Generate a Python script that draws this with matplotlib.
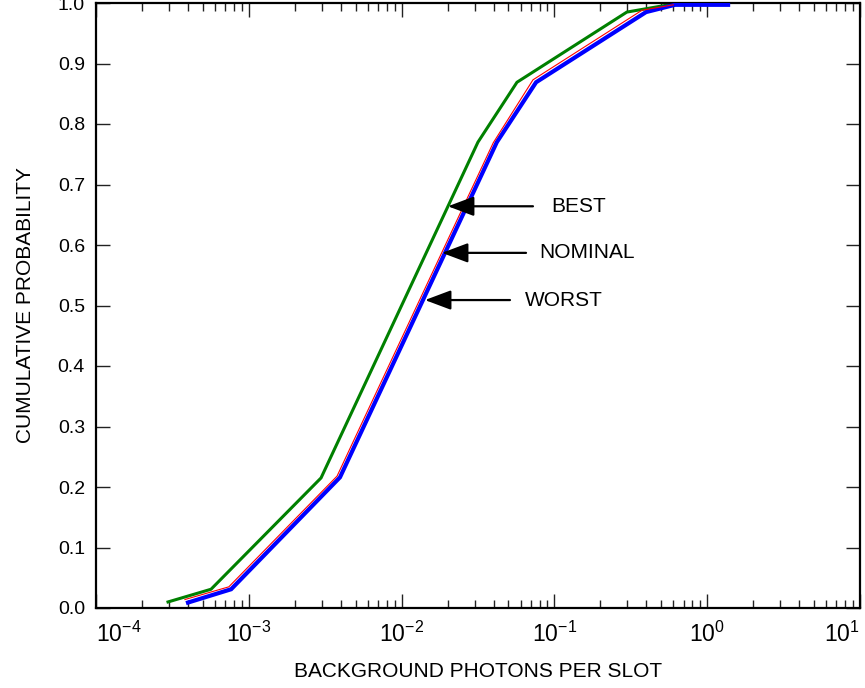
import matplotlib
matplotlib.use("Agg")
import matplotlib.pyplot as plt
import matplotlib.ticker as mticker
from matplotlib.patches import ArrowStyle

plt.rcParams['font.family'] = ['Liberation Sans', 'DejaVu Sans']
plt.rcParams['mathtext.fontset'] = 'custom'
plt.rcParams['mathtext.rm'] = 'Liberation Sans'
plt.rcParams['mathtext.it'] = 'Liberation Sans:italic'
plt.rcParams['mathtext.bf'] = 'Liberation Sans:bold'

# Data
best_x = [2.96e-4, 5.66e-4, 2.97e-3, 0.0316, 0.0569, 0.298, 0.56]
best_y = [0.010, 0.031, 0.215, 0.770, 0.869, 0.985, 0.997]

nominal_x = [3.82e-4, 7.40e-4, 3.78e-3, 0.0398, 0.0724, 0.374, 0.60]
nominal_y = [0.014, 0.035, 0.218, 0.769, 0.873, 0.988, 0.997]

worst_x = [4.00e-4, 7.66e-4, 3.95e-3, 0.0420, 0.0759, 0.398, 0.615, 1.37]
worst_y = [0.009, 0.031, 0.216, 0.770, 0.869, 0.985, 0.997, 0.997]

labels = ["BEST", "NOMINAL", "WORST"]
arrow_y = [0.664, 0.587, 0.509]
arrow_tip_x = [0.0201, 0.01837, 0.01422]
arrow_tail_x = [0.0724, 0.0652, 0.0512]
label_x = [0.095, 0.0793, 0.0643]

yticks = [0.0, 0.1, 0.2, 0.3, 0.4, 0.5, 0.6, 0.7, 0.8, 0.9, 1.0]
xticks = [1e-4, 1e-3, 1e-2, 1e-1, 1e0, 1e1]

fig = plt.figure(figsize=(8.65, 6.88), dpi=100)
ax = fig.add_axes([96/865, 1-608/688, (860-96)/865, (608-3)/688])

ax.plot(worst_x, worst_y, color='#0000ff', lw=3.0, solid_joinstyle='miter', zorder=3)
ax.plot(best_x, best_y, color='#008000', lw=2.2, zorder=2)
ax.plot(nominal_x, nominal_y, color='#ff0000', lw=0.8, zorder=4)

ax.set_xscale('log')
ax.set_xlim(1e-4, 1e1)
ax.set_ylim(0, 1.0)

ax.xaxis.set_major_locator(mticker.FixedLocator(xticks))
ax.xaxis.set_minor_locator(mticker.LogLocator(base=10, subs=range(2, 10), numticks=20))
ax.xaxis.set_minor_formatter(mticker.NullFormatter())
ax.yaxis.set_major_locator(mticker.FixedLocator(yticks))
ax.yaxis.set_major_formatter(mticker.FormatStrFormatter('%.1f'))

ax.tick_params(which='both', direction='in', top=True, right=True, width=1.0, color='#222222')
ax.tick_params(which='major', length=10)
ax.tick_params(which='minor', length=6)
ax.tick_params(axis='x', which='major', pad=10, labelsize=16.5)
ax.tick_params(axis='y', which='major', pad=8, labelsize=14)
for s in ax.spines.values():
    s.set_linewidth(1.6)

ax.set_xlabel("BACKGROUND PHOTONS PER SLOT", fontsize=15, labelpad=11)
ax.set_ylabel("CUMULATIVE PROBABILITY", fontsize=15, labelpad=16)

style = ArrowStyle('-|>', head_length=1.6, head_width=0.6)
for lab, y, tx, tl, lx in zip(labels, arrow_y, arrow_tip_x, arrow_tail_x, label_x):
    ax.annotate('', xy=(tx, y), xytext=(tl, y),
                arrowprops=dict(arrowstyle=style, mutation_scale=10, color='black',
                                lw=1.6, shrinkA=0, shrinkB=0), zorder=5)
    ax.text(lx, y, lab, fontsize=15, ha='left', va='center')

fig.canvas.draw()
tl = ax.get_xticklabels()
tl[0].set_ha('left')
tl[-1].set_ha('right')

fig.savefig('out.png', dpi=100)
